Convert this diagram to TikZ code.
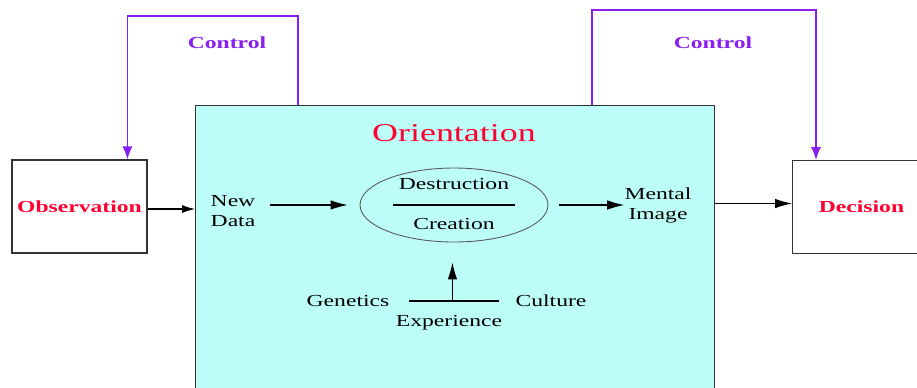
\documentclass[tikz,border=0pt]{standalone}
\usepackage{fontspec}
\setmainfont{Liberation Serif}
\usetikzlibrary{arrows.meta}
\usetikzlibrary{shapes.geometric}
\usetikzlibrary{calc}
\definecolor{orientfill}{RGB}{188,253,248}
\definecolor{ctrlpurple}{RGB}{136,32,240}
\definecolor{labelred}{RGB}{255,0,48}
\newcommand{\widetxt}[1]{\scalebox{1.4}[1]{#1}}

\begin{document}
\begin{tikzpicture}[x=0.02cm,y=-0.02cm,
  box/.style={draw=black!80,line width=0.6pt,inner sep=0pt},
  lbl/.style={inner sep=0pt,font=\fontsize{9.6}{11.4}\selectfont},
  redlbl/.style={text=labelred,font=\fontsize{9.6}{11.4}\selectfont\bfseries},
  ctrllbl/.style={text=ctrlpurple,font=\fontsize{9.6}{11.4}\selectfont\bfseries},
  flow/.style={line width=0.6pt,-{Latex[length=0.34cm,width=0.19cm]}},
  ctrlline/.style={ctrlpurple,line width=0.8pt,-{Latex[length=0.26cm,width=0.2cm]}}]
\clip (0,0) rectangle (917,387);
\fill[white] (0,0) rectangle (917,387);

% outer boxes
\node[box,redlbl,minimum width=2.7cm,minimum height=1.86cm] (obs) at (79.5,206.5) {\widetxt{Observation}};
\node[box,fill=orientfill,minimum width=10.38cm,minimum height=6.2cm,anchor=north west] (orient) at (195,105) {};
\node[box,redlbl,minimum width=2.76cm,minimum height=1.86cm,anchor=north west] (dec) at (792,160) {\widetxt{Decision}};
\node[text=labelred,font=\fontsize{14.6}{17}\selectfont] (title) at (454,133) {\widetxt{Orientation}};

% control loops
\node[ctrllbl] (ctrlA) at (227,43) {\widetxt{Control}};
\node[ctrllbl] (ctrlB) at (713,43) {\widetxt{Control}};
\draw[ctrlline] ([xshift=2.06cm]orient.north west) -- ++(0,-89) -| ([xshift=2.32cm]obs.north west);
\draw[ctrlline] ([xshift=7.94cm]orient.north west) -- ++(0,-95) -| ([xshift=0.48cm]dec.north west);

\draw[flow,-{Latex[length=0.26cm,width=0.16cm]}] ([yshift=-0.05cm]obs.east) -- ([yshift=-0.05cm]obs.east -| orient.west);
\draw[flow] ([yshift=0.07cm]dec.west -| orient.east) -- ([yshift=0.07cm]dec.west);

% inside orientation
\node[ellipse,draw=black!65,line width=0.5pt,minimum width=3.76cm,minimum height=1.48cm,inner sep=0pt] (mind) at (454,205) {};
\node[lbl] (destr) at (454,184) {\widetxt{Destruction}};
\node[lbl] (creat) at (454,224) {\widetxt{Creation}};
\draw[line width=0.6pt] ([xshift=-1.22cm]mind.center) -- ([xshift=1.22cm]mind.center);

\node[lbl,align=left] (newdata) at (233,211) {\widetxt{New}\\\widetxt{Data}};
\node[lbl,align=center] (mental) at (658,205) {\widetxt{Mental}\\\widetxt{Image}};
\draw[flow,shorten <=0.28cm,shorten >=0.24cm] (newdata.east |- mind.west) -- (mind.west);
\draw[flow,shorten <=0.22cm] (mind.east) -- (mind.east -| mental.west);

\node[lbl] (genet) at (348,301) {\widetxt{Genetics}};
\node[lbl] (cult) at (551,301) {\widetxt{Culture}};
\node[lbl] (exper) at (449,323) {\widetxt{Experience}};
\draw[line width=0.6pt,shorten <=0.39cm,shorten >=0.33cm] (genet.east) -- (cult.west);
\coordinate (join) at ($(genet.east)!0.5!(cult.west)$);
\draw[flow,shorten >=0.4cm] (join) -- (join |- mind.south);

\end{tikzpicture}
\end{document}
